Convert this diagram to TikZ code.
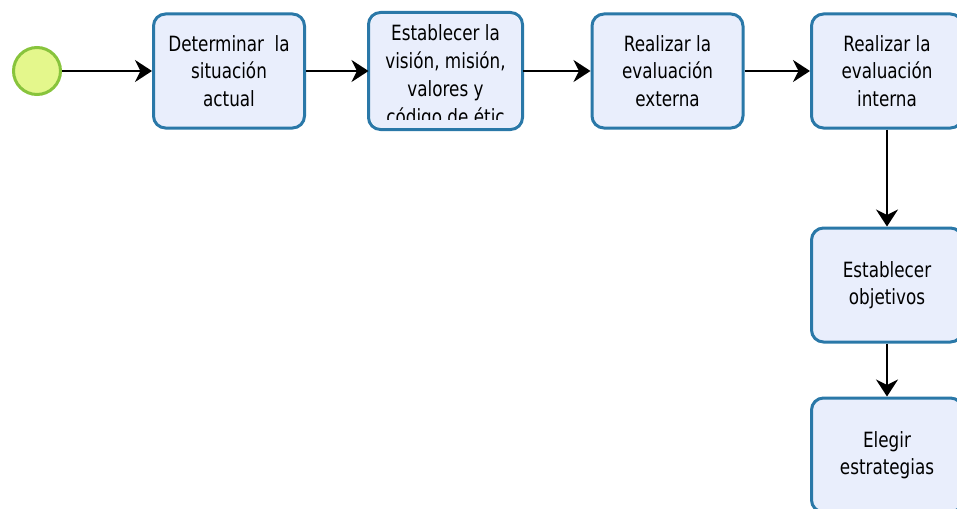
\documentclass[tikz,border=0pt]{standalone}
\usepackage{fontspec}
\setmainfont{DejaVu Sans}[FakeStretch=0.8]
\usetikzlibrary{arrows.meta}

\definecolor{taskline}{HTML}{2A78A8}
\definecolor{taskfill}{HTML}{E9EEFC}
\definecolor{startline}{HTML}{88C43C}
\definecolor{startfill}{HTML}{E4F78C}

\tikzset{
  task/.style={draw=taskline, fill=taskfill, line width=3pt, rounded corners=12pt,
    minimum width=151pt, minimum height=114pt, inner sep=0pt, align=center,
    font=\fontsize{21}{27.5}\selectfont},
  blank/.style={task, draw=none},
  startev/.style={circle, draw=startline, fill=startfill, line width=3pt,
    minimum size=47pt, inner sep=0pt},
  flow/.style={line width=2pt, -{Stealth[length=17pt,width=22pt,inset=5.5pt]}},
}

\begin{document}
\begin{tikzpicture}[x=1pt,y=-1pt]
  \useasboundingbox (0,0) rectangle (957,508);
  \clip (0,0) rectangle (957,508);

  % start event
  \node[startev] (start) at (37,71) {};

  % process steps
  \node[task] (sit) at (229,71) {Determinar\ \ la\\situación\\actual};
  \node[task, fill=taskfill, draw=none] (vis) at (445.5,71) {};
  % the long label overflows its box and is cut to the text area
  \coordinate (vistop) at ([yshift=-12pt]vis.north west);
  \coordinate (visbot) at ([yshift=10pt]vis.south east);
  \begin{scope}
    \clip (vistop) rectangle (visbot);
    \node[blank, fill=none, font=\fontsize{21}{28}\selectfont] (vistext)
      at ([yshift=-5.5pt]vis.center)
      {Establecer la\\visión, misión,\\valores y\\código de étic};
  \end{scope}
  \draw[draw=taskline, line width=3pt, rounded corners=12pt]
    (vis.south west) rectangle (vis.north east);
  \node[task] (ext) at (667.5,71) {Realizar la\\evaluación\\externa};
  \node[task] (int) at (887,71) {Realizar la\\evaluación\\interna};
  \node[task] (obj) at (887,285) {Establecer\\objetivos};
  \node[task] (est) at (887,455) {Elegir\\estrategias};

  % sequence flows
  \draw[flow] (start) -- (sit);
  \draw[flow] (sit) -- (vis);
  \draw[flow] (vis) -- (ext);
  \draw[flow] (ext) -- (int);
  \draw[flow] (int) -- (obj);
  \draw[flow] (obj) -- (est);
\end{tikzpicture}
\end{document}
